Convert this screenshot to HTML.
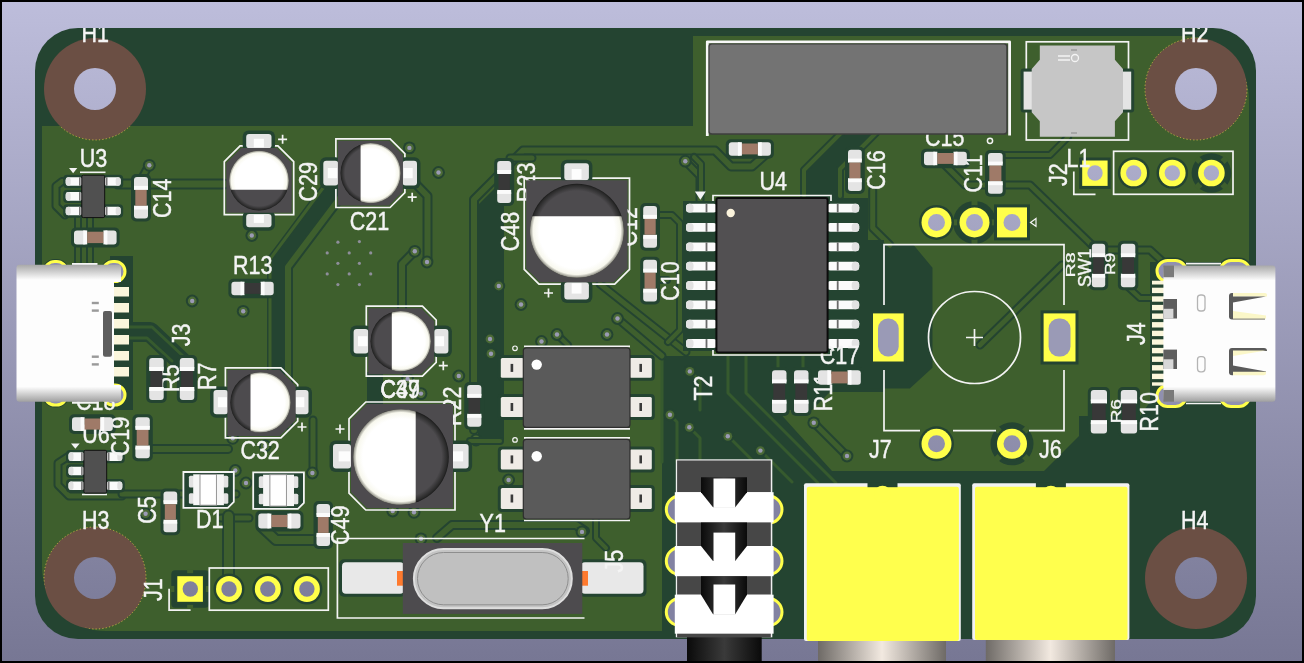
<!DOCTYPE html>
<html><head><meta charset="utf-8">
<style>
html,body{margin:0;padding:0;width:1304px;height:663px;overflow:hidden;background:#000;}
svg{display:block;font-family:"Liberation Sans",sans-serif;}

</style></head><body>
<svg width="1304" height="663" viewBox="0 0 1304 663">
<defs>
<linearGradient id="bg" x1="0" y1="0" x2="0" y2="1">
<stop offset="0" stop-color="#bdbddb"/>
<stop offset="1" stop-color="#777794"/>
</linearGradient>
<linearGradient id="bgu" gradientUnits="userSpaceOnUse" x1="0" y1="2" x2="0" y2="661">
<stop offset="0" stop-color="#bdbddb"/>
<stop offset="1" stop-color="#777794"/>
</linearGradient>
<linearGradient id="usbv" x1="0" y1="0" x2="0" y2="1">
<stop offset="0" stop-color="#a9a9a9"/>
<stop offset="0.11" stop-color="#fdfdfd"/>
<stop offset="0.89" stop-color="#fdfdfd"/>
<stop offset="1" stop-color="#a0a0a0"/>
</linearGradient>
<linearGradient id="silver" x1="0" y1="0" x2="1" y2="0">
<stop offset="0" stop-color="#6e6a66"/>
<stop offset="0.5" stop-color="#f2e9e0"/>
<stop offset="1" stop-color="#6e6a66"/>
</linearGradient>
<linearGradient id="blackcyl" x1="0" y1="0" x2="1" y2="0">
<stop offset="0" stop-color="#0a0a0a"/>
<stop offset="0.5" stop-color="#3a3a3a"/>
<stop offset="1" stop-color="#0a0a0a"/>
</linearGradient>
<radialGradient id="capw" cx="0.5" cy="0.5" r="0.5">
<stop offset="0.8" stop-color="#ffffff"/>
<stop offset="0.93" stop-color="#f8f8ee"/>
<stop offset="1" stop-color="#8a8a80"/>
</radialGradient>
<radialGradient id="capd" cx="0.5" cy="0.5" r="0.5">
<stop offset="0.85" stop-color="#4d4b4e"/>
<stop offset="0.97" stop-color="#2a2a2a"/>
<stop offset="1" stop-color="#1a1a1a"/>
</radialGradient>
<clipPath id="pourclip"><path d="M42 126 H693 V36 H1185 A64 64 0 0 1 1249 100 V262 H1150 V402 L1140 416 H1079 V436 L1044 471 H832 L777 410 H812 L830 392 H884 V356 H662 V631 H106 A64 64 0 0 1 42 567 Z"/></clipPath>
<clipPath id="boardclip"><rect x="35" y="28" width="1221" height="611" rx="43"/></clipPath>
<filter id="gs" x="0" y="0" width="1304" height="663" filterUnits="userSpaceOnUse"><feOffset dx="0" dy="0"/></filter>
</defs>
<rect x="0" y="0" width="1304" height="663" fill="#000"/>
<rect x="2" y="2" width="1300" height="659" fill="url(#bg)"/>

<rect x="35" y="28" width="1221" height="611" rx="43" fill="#244431"/>
<path d="M42 126 H693 V36 H1185 A64 64 0 0 1 1249 100 V262 H1150 V402 L1140 416 H1079 V436 L1044 471 H832 L777 410 H812 L830 392 H884 V356 H662 V631 H106 A64 64 0 0 1 42 567 Z" fill="#3e5f2d"/>
<polygon points="860,245 913.6,245 932.5,267.7 932.5,367.7 909.8,388.5 860,388.5" fill="#244431"/>
<polygon points="110,256 133,256 133,410 110,410" fill="#244431"/>
<polygon points="478,205 497,186 504,186 504,440 478,440" fill="#244431"/>
<polyline points="118,184 224,184" fill="none" stroke="#244431" stroke-width="11" stroke-linejoin="round" stroke-linecap="round"/>
<polyline points="118,184 224,184" fill="none" stroke="#3e5f2d" stroke-width="7" stroke-linejoin="round" stroke-linecap="round"/>
<polyline points="142,178 149,165" fill="none" stroke="#244431" stroke-width="9" stroke-linejoin="round" stroke-linecap="round"/>
<polyline points="142,178 149,165" fill="none" stroke="#3e5f2d" stroke-width="5" stroke-linejoin="round" stroke-linecap="round"/>
<polyline points="62,181.5 56,186 56,206 65,215" fill="none" stroke="#244431" stroke-width="9" stroke-linejoin="round" stroke-linecap="round"/>
<polyline points="62,181.5 56,186 56,206 65,215" fill="none" stroke="#3e5f2d" stroke-width="5" stroke-linejoin="round" stroke-linecap="round"/>
<polyline points="78,216 78,262" fill="none" stroke="#244431" stroke-width="8" stroke-linejoin="round" stroke-linecap="round"/>
<polyline points="78,216 78,262" fill="none" stroke="#3e5f2d" stroke-width="4" stroke-linejoin="round" stroke-linecap="round"/>
<polyline points="90,216 90,262" fill="none" stroke="#244431" stroke-width="8" stroke-linejoin="round" stroke-linecap="round"/>
<polyline points="90,216 90,262" fill="none" stroke="#3e5f2d" stroke-width="4" stroke-linejoin="round" stroke-linecap="round"/>
<polyline points="336,186 279,262 279,425" fill="none" stroke="#244431" stroke-width="22" stroke-linejoin="round"/>
<polyline points="343,194 288,267 288,425" fill="none" stroke="#244431" stroke-width="10" stroke-linejoin="round" stroke-linecap="round"/>
<polyline points="343,194 288,267 288,425" fill="none" stroke="#3e5f2d" stroke-width="6" stroke-linejoin="round" stroke-linecap="round"/>
<polyline points="329,180 270,259 270,425" fill="none" stroke="#244431" stroke-width="6.0" stroke-linejoin="round" stroke-linecap="round"/>
<polyline points="329,180 270,259 270,425" fill="none" stroke="#3e5f2d" stroke-width="3" stroke-linejoin="round" stroke-linecap="round"/>
<polyline points="412,180 427.5,196 427.5,262" fill="none" stroke="#244431" stroke-width="10" stroke-linejoin="round" stroke-linecap="round"/>
<polyline points="412,180 427.5,196 427.5,262" fill="none" stroke="#3e5f2d" stroke-width="6" stroke-linejoin="round" stroke-linecap="round"/>
<polyline points="414.8,251 402,264 402,335" fill="none" stroke="#244431" stroke-width="10" stroke-linejoin="round" stroke-linecap="round"/>
<polyline points="414.8,251 402,264 402,335" fill="none" stroke="#3e5f2d" stroke-width="6" stroke-linejoin="round" stroke-linecap="round"/>
<polyline points="765,155 752,166.5 731,166.5 715,150.5 523,150.5 474,199.5 474,430" fill="none" stroke="#244431" stroke-width="10" stroke-linejoin="round" stroke-linecap="round"/>
<polyline points="765,155 752,166.5 731,166.5 715,150.5 523,150.5 474,199.5 474,430" fill="none" stroke="#3e5f2d" stroke-width="6" stroke-linejoin="round" stroke-linecap="round"/>
<polyline points="510,158 532,158" fill="none" stroke="#244431" stroke-width="9" stroke-linejoin="round" stroke-linecap="round"/>
<polyline points="510,158 532,158" fill="none" stroke="#3e5f2d" stroke-width="5" stroke-linejoin="round" stroke-linecap="round"/>
<circle cx="337.9" cy="242.2" r="1.6" fill="#8e8e9a"/>
<circle cx="359.4" cy="241.6" r="1.6" fill="#8e8e9a"/>
<circle cx="327.2" cy="252.9" r="1.6" fill="#8e8e9a"/>
<circle cx="349.2" cy="252.9" r="1.6" fill="#8e8e9a"/>
<circle cx="370.7" cy="252.9" r="1.6" fill="#8e8e9a"/>
<circle cx="337.9" cy="263.3" r="1.6" fill="#8e8e9a"/>
<circle cx="359.4" cy="263.3" r="1.6" fill="#8e8e9a"/>
<circle cx="327.2" cy="273.9" r="1.6" fill="#8e8e9a"/>
<circle cx="349.2" cy="273.9" r="1.6" fill="#8e8e9a"/>
<circle cx="370.7" cy="273.9" r="1.6" fill="#8e8e9a"/>
<circle cx="337.9" cy="284.6" r="1.6" fill="#8e8e9a"/>
<circle cx="359.4" cy="284.6" r="1.6" fill="#8e8e9a"/>
<circle cx="251.8" cy="235.5" r="6.4" fill="#244431"/>
<circle cx="251.8" cy="235.5" r="4.4" fill="#4b6a36"/>
<circle cx="251.8" cy="235.5" r="2.2" fill="#9a9ab4"/>
<circle cx="243.2" cy="311.3" r="6.4" fill="#244431"/>
<circle cx="243.2" cy="311.3" r="4.4" fill="#4b6a36"/>
<circle cx="243.2" cy="311.3" r="2.2" fill="#9a9ab4"/>
<circle cx="409.4" cy="147.9" r="6.4" fill="#244431"/>
<circle cx="409.4" cy="147.9" r="4.4" fill="#4b6a36"/>
<circle cx="409.4" cy="147.9" r="2.2" fill="#9a9ab4"/>
<circle cx="438.5" cy="172.5" r="6.4" fill="#244431"/>
<circle cx="438.5" cy="172.5" r="4.4" fill="#4b6a36"/>
<circle cx="438.5" cy="172.5" r="2.2" fill="#9a9ab4"/>
<circle cx="414.8" cy="251.3" r="6.4" fill="#244431"/>
<circle cx="414.8" cy="251.3" r="4.4" fill="#4b6a36"/>
<circle cx="414.8" cy="251.3" r="2.2" fill="#9a9ab4"/>
<circle cx="427" cy="262" r="6.4" fill="#244431"/>
<circle cx="427" cy="262" r="4.4" fill="#4b6a36"/>
<circle cx="427" cy="262" r="2.2" fill="#9a9ab4"/>
<circle cx="149.3" cy="165.3" r="6.4" fill="#244431"/>
<circle cx="149.3" cy="165.3" r="4.4" fill="#4b6a36"/>
<circle cx="149.3" cy="165.3" r="2.2" fill="#9a9ab4"/>
<circle cx="192.2" cy="301" r="6.4" fill="#244431"/>
<circle cx="192.2" cy="301" r="4.4" fill="#4b6a36"/>
<circle cx="192.2" cy="301" r="2.2" fill="#9a9ab4"/>
<polyline points="685.3,161.2 700,176 700,200" fill="none" stroke="#244431" stroke-width="9" stroke-linejoin="round" stroke-linecap="round"/>
<polyline points="685.3,161.2 700,176 700,200" fill="none" stroke="#3e5f2d" stroke-width="5" stroke-linejoin="round" stroke-linecap="round"/>
<polyline points="694,157 701,164 701,192" fill="none" stroke="#244431" stroke-width="8" stroke-linejoin="round" stroke-linecap="round"/>
<polyline points="694,157 701,164 701,192" fill="none" stroke="#3e5f2d" stroke-width="4" stroke-linejoin="round" stroke-linecap="round"/>
<circle cx="685.3" cy="161.2" r="6.4" fill="#244431"/>
<circle cx="685.3" cy="161.2" r="4.4" fill="#4b6a36"/>
<circle cx="685.3" cy="161.2" r="2.2" fill="#9a9ab4"/>
<polyline points="945,165 965,185 1030,185 1092,245" fill="none" stroke="#244431" stroke-width="9" stroke-linejoin="round" stroke-linecap="round"/>
<polyline points="945,165 965,185 1030,185 1092,245" fill="none" stroke="#3e5f2d" stroke-width="5" stroke-linejoin="round" stroke-linecap="round"/>
<polyline points="1003,155 1050,155 1068,137" fill="none" stroke="#244431" stroke-width="8" stroke-linejoin="round" stroke-linecap="round"/>
<polyline points="1003,155 1050,155 1068,137" fill="none" stroke="#3e5f2d" stroke-width="4" stroke-linejoin="round" stroke-linecap="round"/>
<polyline points="872.7,190 872.7,228 890,245" fill="none" stroke="#244431" stroke-width="9" stroke-linejoin="round" stroke-linecap="round"/>
<polyline points="872.7,190 872.7,228 890,245" fill="none" stroke="#3e5f2d" stroke-width="5" stroke-linejoin="round" stroke-linecap="round"/>
<polygon points="843,134 874,134 838,170 838,200 806,200 806,171" fill="#244431"/>
<polygon points="827,198 868,198 868,356 827,356" fill="#244431"/>
<polyline points="876,133 840,169 840,196" fill="none" stroke="#244431" stroke-width="8" stroke-linejoin="round" stroke-linecap="round"/>
<polyline points="876,133 840,169 840,196" fill="none" stroke="#3e5f2d" stroke-width="4" stroke-linejoin="round" stroke-linecap="round"/>
<polyline points="841,133 804,170 804,196" fill="none" stroke="#244431" stroke-width="8" stroke-linejoin="round" stroke-linecap="round"/>
<polyline points="841,133 804,170 804,196" fill="none" stroke="#3e5f2d" stroke-width="4" stroke-linejoin="round" stroke-linecap="round"/>
<polygon points="858,240 884,240 884,355 858,355" fill="#244431"/>
<polyline points="980,345 1062,265" fill="none" stroke="#244431" stroke-width="9" stroke-linejoin="round" stroke-linecap="round"/>
<polyline points="980,345 1062,265" fill="none" stroke="#3e5f2d" stroke-width="5" stroke-linejoin="round" stroke-linecap="round"/>
<polyline points="728,354 728,393 818,483" fill="none" stroke="#365a2e" stroke-width="3" stroke-linejoin="round" stroke-linecap="round"/>
<polyline points="746,354 746,393 836,483" fill="none" stroke="#365a2e" stroke-width="3" stroke-linejoin="round" stroke-linecap="round"/>
<polyline points="778,354 778,370" fill="none" stroke="#365a2e" stroke-width="3" stroke-linejoin="round" stroke-linecap="round"/>
<polyline points="803,354 803,370" fill="none" stroke="#365a2e" stroke-width="3" stroke-linejoin="round" stroke-linecap="round"/>
<polyline points="670,415 677,422 677,462" fill="none" stroke="#365a2e" stroke-width="3" stroke-linejoin="round" stroke-linecap="round"/>
<polyline points="689,427 700,438 700,462" fill="none" stroke="#365a2e" stroke-width="3" stroke-linejoin="round" stroke-linecap="round"/>
<polyline points="728,436 768,476" fill="none" stroke="#365a2e" stroke-width="3" stroke-linejoin="round" stroke-linecap="round"/>
<polyline points="760,450 792,482" fill="none" stroke="#365a2e" stroke-width="3" stroke-linejoin="round" stroke-linecap="round"/>
<polyline points="690,371 700,381 700,410" fill="none" stroke="#365a2e" stroke-width="3" stroke-linejoin="round" stroke-linecap="round"/>
<polyline points="662,356 662,462" fill="none" stroke="#365a2e" stroke-width="3" stroke-linejoin="round" stroke-linecap="round"/>
<polyline points="814,423 847,456" fill="none" stroke="#244431" stroke-width="9" stroke-linejoin="round" stroke-linecap="round"/>
<polyline points="814,423 847,456" fill="none" stroke="#3e5f2d" stroke-width="5" stroke-linejoin="round" stroke-linecap="round"/>
<circle cx="689.8" cy="371.4" r="6.4" fill="#244431"/>
<circle cx="689.8" cy="371.4" r="4.4" fill="#4b6a36"/>
<circle cx="689.8" cy="371.4" r="2.2" fill="#9a9ab4"/>
<circle cx="669.9" cy="414.8" r="6.4" fill="#244431"/>
<circle cx="669.9" cy="414.8" r="4.4" fill="#4b6a36"/>
<circle cx="669.9" cy="414.8" r="2.2" fill="#9a9ab4"/>
<circle cx="689.3" cy="427.3" r="6.4" fill="#244431"/>
<circle cx="689.3" cy="427.3" r="4.4" fill="#4b6a36"/>
<circle cx="689.3" cy="427.3" r="2.2" fill="#9a9ab4"/>
<circle cx="727.8" cy="436.3" r="6.4" fill="#244431"/>
<circle cx="727.8" cy="436.3" r="4.4" fill="#4b6a36"/>
<circle cx="727.8" cy="436.3" r="2.2" fill="#9a9ab4"/>
<circle cx="760.4" cy="450.6" r="6.4" fill="#244431"/>
<circle cx="760.4" cy="450.6" r="4.4" fill="#4b6a36"/>
<circle cx="760.4" cy="450.6" r="2.2" fill="#9a9ab4"/>
<circle cx="813.8" cy="422.8" r="6.4" fill="#244431"/>
<circle cx="813.8" cy="422.8" r="4.4" fill="#4b6a36"/>
<circle cx="813.8" cy="422.8" r="2.2" fill="#9a9ab4"/>
<circle cx="847" cy="456" r="6.4" fill="#244431"/>
<circle cx="847" cy="456" r="4.4" fill="#4b6a36"/>
<circle cx="847" cy="456" r="2.2" fill="#9a9ab4"/>
<polyline points="122,332 150,332 186,366" fill="none" stroke="#244431" stroke-width="20" stroke-linejoin="round"/>
<polyline points="125,327 152,327 183,356" fill="none" stroke="#365a2e" stroke-width="3" stroke-linejoin="round" stroke-linecap="round"/>
<polyline points="125,338 147,338 172,361" fill="none" stroke="#365a2e" stroke-width="3" stroke-linejoin="round" stroke-linecap="round"/>
<polyline points="68,456.6 58,463 58,485 69,496 122,496" fill="none" stroke="#244431" stroke-width="9" stroke-linejoin="round" stroke-linecap="round"/>
<polyline points="68,456.6 58,463 58,485 69,496 122,496" fill="none" stroke="#3e5f2d" stroke-width="5" stroke-linejoin="round" stroke-linecap="round"/>
<polyline points="122,494 236,494" fill="none" stroke="#244431" stroke-width="9" stroke-linejoin="round" stroke-linecap="round"/>
<polyline points="122,494 236,494" fill="none" stroke="#3e5f2d" stroke-width="5" stroke-linejoin="round" stroke-linecap="round"/>
<polyline points="150,449 228,449" fill="none" stroke="#244431" stroke-width="10" stroke-linejoin="round" stroke-linecap="round"/>
<polyline points="150,449 228,449" fill="none" stroke="#3e5f2d" stroke-width="6" stroke-linejoin="round" stroke-linecap="round"/>
<polyline points="221,518 249,518" fill="none" stroke="#244431" stroke-width="9" stroke-linejoin="round" stroke-linecap="round"/>
<polyline points="221,518 249,518" fill="none" stroke="#3e5f2d" stroke-width="5" stroke-linejoin="round" stroke-linecap="round"/>
<polyline points="228.5,516 228.5,578" fill="none" stroke="#244431" stroke-width="13" stroke-linejoin="round" stroke-linecap="round"/>
<polyline points="228.5,516 228.5,578" fill="none" stroke="#3e5f2d" stroke-width="9" stroke-linejoin="round" stroke-linecap="round"/>
<polyline points="262,527 276,540 318,540" fill="none" stroke="#244431" stroke-width="12" stroke-linejoin="round" stroke-linecap="round"/>
<polyline points="262,527 276,540 318,540" fill="none" stroke="#3e5f2d" stroke-width="8" stroke-linejoin="round" stroke-linecap="round"/>
<polyline points="313,420 313,472" fill="none" stroke="#244431" stroke-width="9" stroke-linejoin="round" stroke-linecap="round"/>
<polyline points="313,420 313,472" fill="none" stroke="#3e5f2d" stroke-width="5" stroke-linejoin="round" stroke-linecap="round"/>
<circle cx="235.3" cy="470.5" r="6.4" fill="#244431"/>
<circle cx="235.3" cy="470.5" r="4.4" fill="#4b6a36"/>
<circle cx="235.3" cy="470.5" r="2.2" fill="#9a9ab4"/>
<circle cx="246" cy="483" r="6.4" fill="#244431"/>
<circle cx="246" cy="483" r="4.4" fill="#4b6a36"/>
<circle cx="246" cy="483" r="2.2" fill="#9a9ab4"/>
<circle cx="312.4" cy="473" r="6.4" fill="#244431"/>
<circle cx="312.4" cy="473" r="4.4" fill="#4b6a36"/>
<circle cx="312.4" cy="473" r="2.2" fill="#9a9ab4"/>
<circle cx="145.6" cy="513.7" r="6.4" fill="#244431"/>
<circle cx="145.6" cy="513.7" r="4.4" fill="#4b6a36"/>
<circle cx="145.6" cy="513.7" r="2.2" fill="#9a9ab4"/>
<circle cx="232.7" cy="438.3" r="6.4" fill="#244431"/>
<circle cx="232.7" cy="438.3" r="4.4" fill="#4b6a36"/>
<circle cx="232.7" cy="438.3" r="2.2" fill="#9a9ab4"/>
<circle cx="265.2" cy="446" r="6.4" fill="#244431"/>
<circle cx="265.2" cy="446" r="4.4" fill="#4b6a36"/>
<circle cx="265.2" cy="446" r="2.2" fill="#9a9ab4"/>
<polyline points="1100,250 1150,250 1163,262" fill="none" stroke="#244431" stroke-width="9" stroke-linejoin="round" stroke-linecap="round"/>
<polyline points="1100,250 1150,250 1163,262" fill="none" stroke="#3e5f2d" stroke-width="5" stroke-linejoin="round" stroke-linecap="round"/>
<polyline points="1128,287 1140,298 1152,298" fill="none" stroke="#244431" stroke-width="8" stroke-linejoin="round" stroke-linecap="round"/>
<polyline points="1128,287 1140,298 1152,298" fill="none" stroke="#3e5f2d" stroke-width="4" stroke-linejoin="round" stroke-linecap="round"/>
<circle cx="407.6" cy="379" r="6.4" fill="#244431"/>
<circle cx="407.6" cy="379" r="4.4" fill="#4b6a36"/>
<circle cx="407.6" cy="379" r="2.2" fill="#9a9ab4"/>
<circle cx="421" cy="393.6" r="6.4" fill="#244431"/>
<circle cx="421" cy="393.6" r="4.4" fill="#4b6a36"/>
<circle cx="421" cy="393.6" r="2.2" fill="#9a9ab4"/>
<polyline points="375,372 375,404" fill="none" stroke="#244431" stroke-width="16"/>
<circle cx="498.8" cy="286" r="6.4" fill="#244431"/>
<circle cx="498.8" cy="286" r="4.4" fill="#4b6a36"/>
<circle cx="498.8" cy="286" r="2.2" fill="#9a9ab4"/>
<circle cx="521" cy="304.5" r="6.4" fill="#244431"/>
<circle cx="521" cy="304.5" r="4.4" fill="#4b6a36"/>
<circle cx="521" cy="304.5" r="2.2" fill="#9a9ab4"/>
<circle cx="490" cy="339" r="6.4" fill="#244431"/>
<circle cx="490" cy="339" r="4.4" fill="#4b6a36"/>
<circle cx="490" cy="339" r="2.2" fill="#9a9ab4"/>
<circle cx="491" cy="353.7" r="6.4" fill="#244431"/>
<circle cx="491" cy="353.7" r="4.4" fill="#4b6a36"/>
<circle cx="491" cy="353.7" r="2.2" fill="#9a9ab4"/>
<circle cx="458.8" cy="376" r="6.4" fill="#244431"/>
<circle cx="458.8" cy="376" r="4.4" fill="#4b6a36"/>
<circle cx="458.8" cy="376" r="2.2" fill="#9a9ab4"/>
<circle cx="476" cy="440" r="6.4" fill="#244431"/>
<circle cx="476" cy="440" r="4.4" fill="#4b6a36"/>
<circle cx="476" cy="440" r="2.2" fill="#9a9ab4"/>
<circle cx="508.6" cy="480" r="6.4" fill="#244431"/>
<circle cx="508.6" cy="480" r="4.4" fill="#4b6a36"/>
<circle cx="508.6" cy="480" r="2.2" fill="#9a9ab4"/>
<polyline points="470,441 500,441" fill="none" stroke="#244431" stroke-width="8" stroke-linejoin="round" stroke-linecap="round"/>
<polyline points="470,441 500,441" fill="none" stroke="#3e5f2d" stroke-width="4" stroke-linejoin="round" stroke-linecap="round"/>
<polyline points="437,538 452,525 576,525 585,531" fill="none" stroke="#244431" stroke-width="10" stroke-linejoin="round" stroke-linecap="round"/>
<polyline points="437,538 452,525 576,525 585,531" fill="none" stroke="#3e5f2d" stroke-width="6" stroke-linejoin="round" stroke-linecap="round"/>
<polyline points="596,520 596,538 606,548" fill="none" stroke="#244431" stroke-width="8" stroke-linejoin="round" stroke-linecap="round"/>
<polyline points="596,520 596,538 606,548" fill="none" stroke="#3e5f2d" stroke-width="4" stroke-linejoin="round" stroke-linecap="round"/>
<circle cx="414" cy="512.3" r="6.4" fill="#244431"/>
<circle cx="414" cy="512.3" r="4.4" fill="#4b6a36"/>
<circle cx="414" cy="512.3" r="2.2" fill="#9a9ab4"/>
<circle cx="392.7" cy="511" r="6.4" fill="#244431"/>
<circle cx="392.7" cy="511" r="4.4" fill="#4b6a36"/>
<circle cx="392.7" cy="511" r="2.2" fill="#9a9ab4"/>
<circle cx="421" cy="538.8" r="6.4" fill="#244431"/>
<circle cx="421" cy="538.8" r="4.4" fill="#4b6a36"/>
<circle cx="421" cy="538.8" r="2.2" fill="#9a9ab4"/>
<circle cx="582" cy="531.9" r="6.4" fill="#244431"/>
<circle cx="582" cy="531.9" r="4.4" fill="#4b6a36"/>
<circle cx="582" cy="531.9" r="2.2" fill="#9a9ab4"/>
<polyline points="600,284 686,352" fill="none" stroke="#244431" stroke-width="9" stroke-linejoin="round" stroke-linecap="round"/>
<polyline points="600,284 686,352" fill="none" stroke="#3e5f2d" stroke-width="5" stroke-linejoin="round" stroke-linecap="round"/>
<polyline points="617.5,318.5 662,356" fill="none" stroke="#244431" stroke-width="9" stroke-linejoin="round" stroke-linecap="round"/>
<polyline points="617.5,318.5 662,356" fill="none" stroke="#3e5f2d" stroke-width="5" stroke-linejoin="round" stroke-linecap="round"/>
<polyline points="557,334.5 568,345" fill="none" stroke="#244431" stroke-width="8" stroke-linejoin="round" stroke-linecap="round"/>
<polyline points="557,334.5 568,345" fill="none" stroke="#3e5f2d" stroke-width="4" stroke-linejoin="round" stroke-linecap="round"/>
<circle cx="617.5" cy="318.5" r="6.4" fill="#244431"/>
<circle cx="617.5" cy="318.5" r="4.4" fill="#4b6a36"/>
<circle cx="617.5" cy="318.5" r="2.2" fill="#9a9ab4"/>
<circle cx="607" cy="334.5" r="6.4" fill="#244431"/>
<circle cx="607" cy="334.5" r="4.4" fill="#4b6a36"/>
<circle cx="607" cy="334.5" r="2.2" fill="#9a9ab4"/>
<circle cx="557" cy="334.5" r="6.4" fill="#244431"/>
<circle cx="557" cy="334.5" r="4.4" fill="#4b6a36"/>
<circle cx="557" cy="334.5" r="2.2" fill="#9a9ab4"/>
<circle cx="541.5" cy="341.5" r="6.4" fill="#244431"/>
<circle cx="541.5" cy="341.5" r="4.4" fill="#4b6a36"/>
<circle cx="541.5" cy="341.5" r="2.2" fill="#9a9ab4"/>
<polyline points="657,215 672,215 680,223 680,330 668,342" fill="none" stroke="#244431" stroke-width="8" stroke-linejoin="round" stroke-linecap="round"/>
<polyline points="657,215 672,215 680,223 680,330 668,342" fill="none" stroke="#3e5f2d" stroke-width="4" stroke-linejoin="round" stroke-linecap="round"/>
<polyline points="657,280 667,280" fill="none" stroke="#244431" stroke-width="8" stroke-linejoin="round" stroke-linecap="round"/>
<polyline points="657,280 667,280" fill="none" stroke="#3e5f2d" stroke-width="4" stroke-linejoin="round" stroke-linecap="round"/>
<circle cx="95" cy="89" r="51" fill="#6b4f44"/>
<circle cx="95" cy="89" r="51" fill="none" stroke="#d2bb4a" stroke-width="0.9" stroke-dasharray="1.2 2.2" clip-path="url(#pourclip)"/>
<circle cx="95" cy="89" r="21" fill="url(#bgu)"/>
<circle cx="1196" cy="89" r="51" fill="#6b4f44"/>
<circle cx="1196" cy="89" r="51" fill="none" stroke="#d2bb4a" stroke-width="0.9" stroke-dasharray="1.2 2.2" clip-path="url(#pourclip)"/>
<circle cx="1196" cy="89" r="21" fill="url(#bgu)"/>
<circle cx="95" cy="578" r="51" fill="#6b4f44"/>
<circle cx="95" cy="578" r="51" fill="none" stroke="#d2bb4a" stroke-width="0.9" stroke-dasharray="1.2 2.2" clip-path="url(#pourclip)"/>
<circle cx="95" cy="578" r="21" fill="url(#bgu)"/>
<circle cx="1196" cy="578" r="51" fill="#6b4f44"/>
<circle cx="1196" cy="578" r="51" fill="none" stroke="#d2bb4a" stroke-width="0.9" stroke-dasharray="1.2 2.2" clip-path="url(#pourclip)"/>
<circle cx="1196" cy="578" r="21" fill="url(#bgu)"/>
<rect x="131.0" y="174.0" width="20.0" height="47.5" rx="5" fill="#244431"/>
<rect x="71.0" y="227.4" width="48.6" height="20.0" rx="5" fill="#244431"/>
<rect x="63.2" y="174.8" width="21.0" height="13.4" rx="4" fill="#244431"/>
<rect x="63.2" y="189.7" width="21.0" height="13.4" rx="4" fill="#244431"/>
<rect x="63.2" y="204.3" width="21.0" height="13.4" rx="4" fill="#244431"/>
<rect x="102.2" y="174.8" width="21.0" height="13.4" rx="4" fill="#244431"/>
<rect x="102.2" y="204.3" width="21.0" height="13.4" rx="4" fill="#244431"/>
<rect x="65.7" y="177.2" width="16.8" height="8.6" rx="3" fill="#fafafa"/>
<rect x="65.7" y="177.2" width="5" height="8.6" rx="3" fill="#e0e0e0"/>
<rect x="79.0" y="177.2" width="1.6" height="8.6" fill="#777"/>
<rect x="65.7" y="192.1" width="16.8" height="8.6" rx="3" fill="#fafafa"/>
<rect x="65.7" y="192.1" width="5" height="8.6" rx="3" fill="#e0e0e0"/>
<rect x="79.0" y="192.1" width="1.6" height="8.6" fill="#777"/>
<rect x="65.7" y="206.7" width="16.8" height="8.6" rx="3" fill="#fafafa"/>
<rect x="65.7" y="206.7" width="5" height="8.6" rx="3" fill="#e0e0e0"/>
<rect x="79.0" y="206.7" width="1.6" height="8.6" fill="#777"/>
<rect x="104" y="177.2" width="16.7" height="8.6" rx="3" fill="#fafafa"/>
<rect x="115.7" y="177.2" width="5" height="8.6" rx="3" fill="#e0e0e0"/>
<rect x="105.9" y="177.2" width="1.6" height="8.6" fill="#777"/>
<rect x="104" y="206.7" width="16.7" height="8.6" rx="3" fill="#fafafa"/>
<rect x="115.7" y="206.7" width="5" height="8.6" rx="3" fill="#e0e0e0"/>
<rect x="105.9" y="206.7" width="1.6" height="8.6" fill="#777"/>
<path d="M69 168 h8.3 l-4.15 5.2 z" fill="#f4f4f4"/>
<path d="M80 172.3 h25.5" stroke="#f4f4f4" stroke-width="1.6"/>
<polygon points="224.3,161.7 240.1,145.9 277.9,145.9 293.7,161.7 293.7,214.7 224.3,214.7" fill="none" stroke="#f4f4f4" stroke-width="1.7"/>
<rect x="242.7" y="130.6" width="32.3" height="21.2" rx="6" fill="#244431"/>
<rect x="242.7" y="210.4" width="32.3" height="20.3" rx="6" fill="#244431"/>
<rect x="246.2" y="134.1" width="25.3" height="14.2" rx="3" fill="#e4e4e4"/>
<rect x="253.8" y="138.8" width="10.1" height="8.5" fill="#fdfdfd"/>
<rect x="246.2" y="213.9" width="25.3" height="13.3" rx="3" fill="#e4e4e4"/>
<rect x="253.8" y="214.9" width="10.1" height="8.0" fill="#fdfdfd"/>
<polygon points="335.9,138.8 390.1,138.8 404.9,153.6 404.9,192.7 390.1,207.5 335.9,207.5" fill="none" stroke="#f4f4f4" stroke-width="1.7"/>
<rect x="319.8" y="157.2" width="21.9" height="31.9" rx="6" fill="#244431"/>
<rect x="399.1" y="157.2" width="21.4" height="31.9" rx="6" fill="#244431"/>
<rect x="323.3" y="160.7" width="14.9" height="24.9" rx="3" fill="#e4e4e4"/>
<rect x="327.8" y="168.0" width="9.4" height="10.2" fill="#fdfdfd"/>
<rect x="402.6" y="160.7" width="14.4" height="24.9" rx="3" fill="#e4e4e4"/>
<rect x="403.6" y="168.0" width="9.1" height="10.2" fill="#fdfdfd"/>
<rect x="228.4" y="278.7" width="48.3" height="19.5" rx="5" fill="#244431"/>
<rect x="42.2" y="259.0" width="27" height="25" rx="12.5" fill="#244431"/>
<rect x="44.7" y="261.5" width="22" height="20" rx="10" fill="#8f8fae" stroke="#ffff4a" stroke-width="3"/>
<rect x="100.5" y="259.0" width="27" height="25" rx="12.5" fill="#244431"/>
<rect x="103" y="261.5" width="22" height="20" rx="10" fill="#8f8fae" stroke="#ffff4a" stroke-width="3"/>
<rect x="42.2" y="382.5" width="27" height="25" rx="12.5" fill="#244431"/>
<rect x="44.7" y="385" width="22" height="20" rx="10" fill="#8f8fae" stroke="#ffff4a" stroke-width="3"/>
<rect x="100.5" y="382.5" width="27" height="25" rx="12.5" fill="#244431"/>
<rect x="103" y="385" width="22" height="20" rx="10" fill="#8f8fae" stroke="#ffff4a" stroke-width="3"/>
<rect x="112" y="287.0" width="17" height="9.5" fill="#fbf6dc"/>
<rect x="112" y="303.0" width="17" height="9.5" fill="#fbf6dc"/>
<rect x="112" y="319.0" width="17" height="9.5" fill="#fbf6dc"/>
<rect x="112" y="335.0" width="17" height="9.5" fill="#fbf6dc"/>
<rect x="112" y="351.0" width="17" height="9.5" fill="#fbf6dc"/>
<rect x="112" y="367.0" width="17" height="9.5" fill="#fbf6dc"/>
<rect x="146.2" y="355.0" width="20.5" height="48.0" rx="5" fill="#244431"/>
<rect x="176.8" y="355.0" width="20.5" height="48.0" rx="5" fill="#244431"/>
<rect x="69.0" y="414.2" width="46.8" height="19.7" rx="5" fill="#244431"/>
<rect x="132.4" y="414.2" width="20.4" height="47.0" rx="5" fill="#244431"/>
<rect x="66.0" y="449.9" width="20.4" height="13.4" rx="4" fill="#244431"/>
<rect x="66.0" y="464.3" width="20.4" height="13.4" rx="4" fill="#244431"/>
<rect x="66.0" y="479.0" width="20.4" height="13.4" rx="4" fill="#244431"/>
<rect x="104.2" y="449.9" width="20.6" height="13.4" rx="4" fill="#244431"/>
<rect x="104.2" y="479.0" width="20.6" height="13.4" rx="4" fill="#244431"/>
<rect x="68.5" y="452.3" width="16.1" height="8.6" rx="3" fill="#fafafa"/>
<rect x="68.5" y="452.3" width="5" height="8.6" rx="3" fill="#e0e0e0"/>
<rect x="81.1" y="452.3" width="1.6" height="8.6" fill="#777"/>
<rect x="68.5" y="466.7" width="16.1" height="8.6" rx="3" fill="#fafafa"/>
<rect x="68.5" y="466.7" width="5" height="8.6" rx="3" fill="#e0e0e0"/>
<rect x="81.1" y="466.7" width="1.6" height="8.6" fill="#777"/>
<rect x="68.5" y="481.4" width="16.1" height="8.6" rx="3" fill="#fafafa"/>
<rect x="68.5" y="481.4" width="5" height="8.6" rx="3" fill="#e0e0e0"/>
<rect x="81.1" y="481.4" width="1.6" height="8.6" fill="#777"/>
<rect x="106" y="452.3" width="16.3" height="8.6" rx="3" fill="#fafafa"/>
<rect x="117.3" y="452.3" width="5" height="8.6" rx="3" fill="#e0e0e0"/>
<rect x="107.9" y="452.3" width="1.6" height="8.6" fill="#777"/>
<rect x="106" y="481.4" width="16.3" height="8.6" rx="3" fill="#fafafa"/>
<rect x="117.3" y="481.4" width="5" height="8.6" rx="3" fill="#e0e0e0"/>
<rect x="107.9" y="481.4" width="1.6" height="8.6" fill="#777"/>
<path d="M71 443.5 h8.7 l-4.35 5.3 z" fill="#f4f4f4"/>
<path d="M82 494.5 h25" stroke="#f4f4f4" stroke-width="1.6"/>
<rect x="160.5" y="488.6" width="19.7" height="46.7" rx="5" fill="#244431"/>
<polygon points="225.4,367.9 280.9,367.9 297.7,384.7 297.7,421.1 280.9,437.9 225.4,437.9" fill="none" stroke="#f4f4f4" stroke-width="1.7"/>
<rect x="210.0" y="386.5" width="21.5" height="31.3" rx="6" fill="#244431"/>
<rect x="291.0" y="386.5" width="21.0" height="31.3" rx="6" fill="#244431"/>
<rect x="213.5" y="390" width="14.5" height="24.3" rx="3" fill="#e4e4e4"/>
<rect x="217.9" y="397.2" width="9.1" height="10.0" fill="#fdfdfd"/>
<rect x="294.5" y="390" width="14" height="24.3" rx="3" fill="#e4e4e4"/>
<rect x="295.5" y="397.2" width="8.8" height="10.0" fill="#fdfdfd"/>
<rect x="255.3" y="510.6" width="48.2" height="20.8" rx="5" fill="#244431"/>
<rect x="313.5" y="501.0" width="19.5" height="47.9" rx="5" fill="#244431"/>
<polygon points="366.3,306.2 422.4,306.2 436.2,320.0 436.2,362.4 422.4,376.2 366.3,376.2" fill="none" stroke="#f4f4f4" stroke-width="1.7"/>
<rect x="350.1" y="325.5" width="21.7" height="31.4" rx="6" fill="#244431"/>
<rect x="430.7" y="325.5" width="21.2" height="31.4" rx="6" fill="#244431"/>
<rect x="353.6" y="329" width="14.7" height="24.4" rx="3" fill="#e4e4e4"/>
<rect x="358.0" y="336.2" width="9.3" height="10.0" fill="#fdfdfd"/>
<rect x="434.2" y="329" width="14.2" height="24.4" rx="3" fill="#e4e4e4"/>
<rect x="435.2" y="336.2" width="8.9" height="10.0" fill="#fdfdfd"/>
<polygon points="365.8,402.0 455.0,402.0 455.0,510.0 365.8,510.0 349.0,493.2 349.0,418.8" fill="none" stroke="#f4f4f4" stroke-width="1.7"/>
<rect x="329.5" y="440.5" width="25.0" height="31.6" rx="6" fill="#244431"/>
<rect x="447.5" y="440.5" width="24.6" height="31.6" rx="6" fill="#244431"/>
<rect x="333" y="444" width="18" height="24.6" rx="3" fill="#e4e4e4"/>
<rect x="338.7" y="451.3" width="11.3" height="10.1" fill="#fdfdfd"/>
<rect x="451" y="444" width="17.6" height="24.6" rx="3" fill="#e4e4e4"/>
<rect x="452.0" y="451.3" width="11.1" height="10.1" fill="#fdfdfd"/>
<rect x="464.2" y="382.0" width="20.2" height="47.7" rx="5" fill="#244431"/>
<polygon points="524.2,178.2 629.5,178.2 629.5,269.4 614.7,284.2 539.0,284.2 524.2,269.4" fill="none" stroke="#f4f4f4" stroke-width="1.7"/>
<rect x="560.8" y="159.8" width="31.6" height="23.9" rx="6" fill="#244431"/>
<rect x="560.8" y="278.7" width="31.6" height="24.4" rx="6" fill="#244431"/>
<rect x="564.3" y="163.3" width="24.6" height="16.9" rx="3" fill="#e4e4e4"/>
<rect x="571.7" y="169.1" width="9.8" height="10.1" fill="#fdfdfd"/>
<rect x="564.3" y="282.2" width="24.6" height="17.4" rx="3" fill="#e4e4e4"/>
<rect x="571.7" y="283.2" width="9.8" height="10.4" fill="#fdfdfd"/>
<rect x="494.2" y="157.9" width="20.0" height="48.1" rx="5" fill="#244431"/>
<rect x="640.2" y="203.0" width="19.8" height="47.7" rx="5" fill="#244431"/>
<rect x="640.2" y="256.8" width="19.8" height="47.7" rx="5" fill="#244431"/>
<rect x="683" y="201" width="34" height="150" fill="#244431"/>
<rect x="827" y="201" width="35" height="150" fill="#244431"/>
<rect x="686" y="203.7" width="31" height="8.8" rx="3.5" fill="#fbfbfb"/>
<rect x="686" y="203.7" width="7.5" height="8.8" rx="3.5" fill="#e2e2e2"/>
<rect x="705.6" y="203.7" width="1.8" height="8.8" fill="#6a6a6a"/>
<rect x="827" y="203.7" width="32.2" height="8.8" rx="3.5" fill="#fbfbfb"/>
<rect x="851.7" y="203.7" width="7.5" height="8.8" rx="3.5" fill="#e2e2e2"/>
<rect x="836.8" y="203.7" width="1.8" height="8.8" fill="#6a6a6a"/>
<rect x="686" y="223.0" width="31" height="8.8" rx="3.5" fill="#fbfbfb"/>
<rect x="686" y="223.0" width="7.5" height="8.8" rx="3.5" fill="#e2e2e2"/>
<rect x="705.6" y="223.0" width="1.8" height="8.8" fill="#6a6a6a"/>
<rect x="827" y="223.0" width="32.2" height="8.8" rx="3.5" fill="#fbfbfb"/>
<rect x="851.7" y="223.0" width="7.5" height="8.8" rx="3.5" fill="#e2e2e2"/>
<rect x="836.8" y="223.0" width="1.8" height="8.8" fill="#6a6a6a"/>
<rect x="686" y="242.4" width="31" height="8.8" rx="3.5" fill="#fbfbfb"/>
<rect x="686" y="242.4" width="7.5" height="8.8" rx="3.5" fill="#e2e2e2"/>
<rect x="705.6" y="242.4" width="1.8" height="8.8" fill="#6a6a6a"/>
<rect x="827" y="242.4" width="32.2" height="8.8" rx="3.5" fill="#fbfbfb"/>
<rect x="851.7" y="242.4" width="7.5" height="8.8" rx="3.5" fill="#e2e2e2"/>
<rect x="836.8" y="242.4" width="1.8" height="8.8" fill="#6a6a6a"/>
<rect x="686" y="261.7" width="31" height="8.8" rx="3.5" fill="#fbfbfb"/>
<rect x="686" y="261.7" width="7.5" height="8.8" rx="3.5" fill="#e2e2e2"/>
<rect x="705.6" y="261.7" width="1.8" height="8.8" fill="#6a6a6a"/>
<rect x="827" y="261.7" width="32.2" height="8.8" rx="3.5" fill="#fbfbfb"/>
<rect x="851.7" y="261.7" width="7.5" height="8.8" rx="3.5" fill="#e2e2e2"/>
<rect x="836.8" y="261.7" width="1.8" height="8.8" fill="#6a6a6a"/>
<rect x="686" y="281.1" width="31" height="8.8" rx="3.5" fill="#fbfbfb"/>
<rect x="686" y="281.1" width="7.5" height="8.8" rx="3.5" fill="#e2e2e2"/>
<rect x="705.6" y="281.1" width="1.8" height="8.8" fill="#6a6a6a"/>
<rect x="827" y="281.1" width="32.2" height="8.8" rx="3.5" fill="#fbfbfb"/>
<rect x="851.7" y="281.1" width="7.5" height="8.8" rx="3.5" fill="#e2e2e2"/>
<rect x="836.8" y="281.1" width="1.8" height="8.8" fill="#6a6a6a"/>
<rect x="686" y="300.4" width="31" height="8.8" rx="3.5" fill="#fbfbfb"/>
<rect x="686" y="300.4" width="7.5" height="8.8" rx="3.5" fill="#e2e2e2"/>
<rect x="705.6" y="300.4" width="1.8" height="8.8" fill="#6a6a6a"/>
<rect x="827" y="300.4" width="32.2" height="8.8" rx="3.5" fill="#fbfbfb"/>
<rect x="851.7" y="300.4" width="7.5" height="8.8" rx="3.5" fill="#e2e2e2"/>
<rect x="836.8" y="300.4" width="1.8" height="8.8" fill="#6a6a6a"/>
<rect x="686" y="319.7" width="31" height="8.8" rx="3.5" fill="#fbfbfb"/>
<rect x="686" y="319.7" width="7.5" height="8.8" rx="3.5" fill="#e2e2e2"/>
<rect x="705.6" y="319.7" width="1.8" height="8.8" fill="#6a6a6a"/>
<rect x="827" y="319.7" width="32.2" height="8.8" rx="3.5" fill="#fbfbfb"/>
<rect x="851.7" y="319.7" width="7.5" height="8.8" rx="3.5" fill="#e2e2e2"/>
<rect x="836.8" y="319.7" width="1.8" height="8.8" fill="#6a6a6a"/>
<rect x="686" y="339.1" width="31" height="8.8" rx="3.5" fill="#fbfbfb"/>
<rect x="686" y="339.1" width="7.5" height="8.8" rx="3.5" fill="#e2e2e2"/>
<rect x="705.6" y="339.1" width="1.8" height="8.8" fill="#6a6a6a"/>
<rect x="827" y="339.1" width="32.2" height="8.8" rx="3.5" fill="#fbfbfb"/>
<rect x="851.7" y="339.1" width="7.5" height="8.8" rx="3.5" fill="#e2e2e2"/>
<rect x="836.8" y="339.1" width="1.8" height="8.8" fill="#6a6a6a"/>
<rect x="497.8" y="355.0" width="28.5" height="25.8" rx="4" fill="#244431"/>
<rect x="627.0" y="355.0" width="27.8" height="25.8" rx="4" fill="#244431"/>
<rect x="497.8" y="394.0" width="28.5" height="26.0" rx="4" fill="#244431"/>
<rect x="627.0" y="394.0" width="27.8" height="26.0" rx="4" fill="#244431"/>
<rect x="500.8" y="358" width="23" height="19.8" rx="1.5" fill="#efebe6"/>
<rect x="510.6" y="363.9" width="2.6" height="8" fill="#3a3a3a"/>
<rect x="629.5" y="358" width="22.3" height="19.8" rx="1.5" fill="#efebe6"/>
<rect x="639.4" y="363.9" width="2.6" height="8" fill="#3a3a3a"/>
<rect x="500.8" y="397" width="23" height="20.0" rx="1.5" fill="#efebe6"/>
<rect x="510.6" y="403.0" width="2.6" height="8" fill="#3a3a3a"/>
<rect x="629.5" y="397" width="22.3" height="20.0" rx="1.5" fill="#efebe6"/>
<rect x="639.4" y="403.0" width="2.6" height="8" fill="#3a3a3a"/>
<rect x="497.8" y="446.5" width="28.5" height="25.9" rx="4" fill="#244431"/>
<rect x="627.0" y="446.5" width="27.8" height="25.9" rx="4" fill="#244431"/>
<rect x="497.8" y="485.0" width="28.5" height="27.0" rx="4" fill="#244431"/>
<rect x="627.0" y="485.0" width="27.8" height="27.0" rx="4" fill="#244431"/>
<rect x="500.8" y="449.5" width="23" height="19.9" rx="1.5" fill="#efebe6"/>
<rect x="510.6" y="455.4" width="2.6" height="8" fill="#3a3a3a"/>
<rect x="629.5" y="449.5" width="22.3" height="19.9" rx="1.5" fill="#efebe6"/>
<rect x="639.4" y="455.4" width="2.6" height="8" fill="#3a3a3a"/>
<rect x="500.8" y="488" width="23" height="21.0" rx="1.5" fill="#efebe6"/>
<rect x="510.6" y="494.5" width="2.6" height="8" fill="#3a3a3a"/>
<rect x="629.5" y="488" width="22.3" height="21.0" rx="1.5" fill="#efebe6"/>
<rect x="639.4" y="494.5" width="2.6" height="8" fill="#3a3a3a"/>
<rect x="1026.3" y="41.8" width="102.2" height="98.2" fill="none" stroke="#f4f4f4" stroke-width="1.7"/>
<rect x="1020.6" y="68.6" width="14.1" height="44.0" rx="3" fill="#244431"/>
<rect x="1120.0" y="68.6" width="14.2" height="44.0" rx="3" fill="#244431"/>
<rect x="1023.6" y="71.6" width="9" height="38" fill="#e4e4e4"/>
<rect x="1122" y="71.6" width="9.2" height="38" fill="#e4e4e4"/>
<rect x="725.8" y="139.2" width="48.1" height="19.5" rx="5" fill="#244431"/>
<rect x="845.0" y="146.8" width="19.8" height="47.2" rx="5" fill="#244431"/>
<rect x="921.0" y="148.7" width="48.8" height="19.5" rx="5" fill="#244431"/>
<rect x="985.0" y="150.0" width="20.7" height="46.8" rx="5" fill="#244431"/>
<circle cx="1211.4" cy="173" r="19.8" fill="#244431"/>
<line x1="1211.4" y1="173" x2="1226.5" y2="188.1" stroke="#3e5f2d" stroke-width="6"/>
<line x1="1211.4" y1="173" x2="1196.3" y2="188.1" stroke="#3e5f2d" stroke-width="6"/>
<line x1="1211.4" y1="173" x2="1196.3" y2="157.9" stroke="#3e5f2d" stroke-width="6"/>
<line x1="1211.4" y1="173" x2="1226.5" y2="157.9" stroke="#3e5f2d" stroke-width="6"/>
<rect x="171.3" y="570.2" width="37.6" height="37.6" rx="4" fill="#244431"/>
<rect x="187.1" y="569.2" width="6" height="39.6" fill="#3e5f2d"/>
<rect x="170.3" y="586.0" width="39.6" height="6" fill="#3e5f2d"/>
<circle cx="974.5" cy="222.4" r="21.5" fill="#244431"/>
<line x1="974.5" y1="222.4" x2="997.5" y2="222.4" stroke="#3e5f2d" stroke-width="6"/>
<line x1="974.5" y1="222.4" x2="974.5" y2="245.4" stroke="#3e5f2d" stroke-width="6"/>
<line x1="974.5" y1="222.4" x2="951.5" y2="222.4" stroke="#3e5f2d" stroke-width="6"/>
<line x1="974.5" y1="222.4" x2="974.5" y2="199.4" stroke="#3e5f2d" stroke-width="6"/>
<circle cx="1012" cy="443.8" r="21.5" fill="#244431"/>
<line x1="1012" y1="443.8" x2="1028.3" y2="460.1" stroke="#3e5f2d" stroke-width="6"/>
<line x1="1012" y1="443.8" x2="995.7" y2="460.1" stroke="#3e5f2d" stroke-width="6"/>
<line x1="1012" y1="443.8" x2="995.7" y2="427.5" stroke="#3e5f2d" stroke-width="6"/>
<line x1="1012" y1="443.8" x2="1028.3" y2="427.5" stroke="#3e5f2d" stroke-width="6"/>
<rect x="1079.2" y="157.5" width="31.399999999999864" height="31.400000000000006" fill="#244431"/>
<rect x="1082.2" y="160.5" width="25.4" height="25.4" fill="#ffff4a"/>
<circle cx="1095" cy="173" r="7.7" fill="url(#bgu)"/>
<circle cx="1133.7" cy="173" r="15.8" fill="#244431"/>
<circle cx="1133.7" cy="173" r="13.3" fill="#ffff4a"/>
<circle cx="1133.7" cy="173" r="7.7" fill="url(#bgu)"/>
<circle cx="1172.3" cy="173" r="15.8" fill="#244431"/>
<circle cx="1172.3" cy="173" r="13.3" fill="#ffff4a"/>
<circle cx="1172.3" cy="173" r="7.7" fill="url(#bgu)"/>
<circle cx="1211.4" cy="173" r="15.8" fill="#244431"/>
<circle cx="1211.4" cy="173" r="13.3" fill="#ffff4a"/>
<circle cx="1211.4" cy="173" r="7.7" fill="url(#bgu)"/>
<rect x="174.3" y="573.2" width="31.599999999999994" height="31.59999999999991" fill="#244431"/>
<rect x="177.3" y="576.2" width="25.6" height="25.6" fill="#ffff4a"/>
<circle cx="190.3" cy="589" r="7.7" fill="url(#bgu)"/>
<circle cx="229" cy="589" r="15.5" fill="#244431"/>
<circle cx="229" cy="589" r="13" fill="#ffff4a"/>
<circle cx="229" cy="589" r="7.7" fill="url(#bgu)"/>
<circle cx="267.8" cy="589" r="15.5" fill="#244431"/>
<circle cx="267.8" cy="589" r="13" fill="#ffff4a"/>
<circle cx="267.8" cy="589" r="7.7" fill="url(#bgu)"/>
<circle cx="306.9" cy="589" r="15.5" fill="#244431"/>
<circle cx="306.9" cy="589" r="13" fill="#ffff4a"/>
<circle cx="306.9" cy="589" r="7.7" fill="url(#bgu)"/>
<rect x="870" y="310.4" width="36.7" height="54.1" fill="#244431"/>
<rect x="873" y="313.4" width="30.7" height="48.1" fill="#ffff4a"/>
<rect x="878" y="318.5" width="20.7" height="38" rx="10" fill="#9a9ab6"/>
<rect x="1040.6" y="310.4" width="37.9" height="54.1" fill="#244431"/>
<rect x="1043.6" y="313.4" width="31.9" height="48.1" fill="#ffff4a"/>
<rect x="1048.6" y="318.5" width="21.9" height="38" rx="10" fill="#9a9ab6"/>
<circle cx="936.5" cy="222.4" r="17.5" fill="#244431"/>
<circle cx="936.5" cy="222.4" r="15" fill="#ffff4a"/>
<circle cx="936.5" cy="222.4" r="8.5" fill="url(#bgu)"/>
<circle cx="974.5" cy="222.4" r="17.5" fill="#244431"/>
<circle cx="974.5" cy="222.4" r="15" fill="#ffff4a"/>
<circle cx="974.5" cy="222.4" r="8.5" fill="url(#bgu)"/>
<rect x="994" y="204.4" width="36" height="36.0" fill="#244431"/>
<rect x="997" y="207.4" width="30.0" height="30.0" fill="#ffff4a"/>
<circle cx="1012" cy="222.4" r="8.5" fill="url(#bgu)"/>
<circle cx="936.5" cy="443.8" r="17.5" fill="#244431"/>
<circle cx="936.5" cy="443.8" r="15" fill="#ffff4a"/>
<circle cx="936.5" cy="443.8" r="8.5" fill="url(#bgu)"/>
<circle cx="1012" cy="443.8" r="17.5" fill="#244431"/>
<circle cx="1012" cy="443.8" r="15" fill="#ffff4a"/>
<circle cx="1012" cy="443.8" r="8.5" fill="url(#bgu)"/>
<rect x="1154.0" y="257.5" width="35" height="27" rx="13.5" fill="#244431"/>
<rect x="1157.0" y="260.5" width="29" height="21" rx="10.5" fill="#9090b0" stroke="#ffff4a" stroke-width="3"/>
<rect x="1217.5" y="257.5" width="35" height="27" rx="13.5" fill="#244431"/>
<rect x="1220.5" y="260.5" width="29" height="21" rx="10.5" fill="#9090b0" stroke="#ffff4a" stroke-width="3"/>
<rect x="1154.0" y="382.5" width="35" height="27" rx="13.5" fill="#244431"/>
<rect x="1157.0" y="385.5" width="29" height="21" rx="10.5" fill="#9090b0" stroke="#ffff4a" stroke-width="3"/>
<rect x="1217.5" y="382.5" width="35" height="27" rx="13.5" fill="#244431"/>
<rect x="1220.5" y="385.5" width="29" height="21" rx="10.5" fill="#9090b0" stroke="#ffff4a" stroke-width="3"/>
<rect x="1152" y="280.7" width="14" height="105" fill="#fbf6dc"/>
<rect x="1152" y="284.5" width="14" height="3.2" fill="#244431"/>
<rect x="1152" y="293.1" width="14" height="3.2" fill="#244431"/>
<rect x="1152" y="301.7" width="14" height="3.2" fill="#244431"/>
<rect x="1152" y="310.3" width="14" height="3.2" fill="#244431"/>
<rect x="1152" y="318.9" width="14" height="3.2" fill="#244431"/>
<rect x="1152" y="327.5" width="14" height="3.2" fill="#244431"/>
<rect x="1152" y="336.1" width="14" height="3.2" fill="#244431"/>
<rect x="1152" y="344.7" width="14" height="3.2" fill="#244431"/>
<rect x="1152" y="353.3" width="14" height="3.2" fill="#244431"/>
<rect x="1152" y="361.9" width="14" height="3.2" fill="#244431"/>
<rect x="1152" y="370.5" width="14" height="3.2" fill="#244431"/>
<rect x="1152" y="379.1" width="14" height="3.2" fill="#244431"/>
<rect x="1088.9" y="240.8" width="19.3" height="49.4" rx="5" fill="#244431"/>
<rect x="1117.9" y="240.8" width="20.4" height="49.4" rx="5" fill="#244431"/>
<rect x="1087.8" y="387.0" width="22.2" height="49.6" rx="5" fill="#244431"/>
<rect x="1117.8" y="387.0" width="22.3" height="49.6" rx="5" fill="#244431"/>
<rect x="769.0" y="367.2" width="20.5" height="48.8" rx="5" fill="#244431"/>
<rect x="791.0" y="367.2" width="20.5" height="48.8" rx="5" fill="#244431"/>
<rect x="815.0" y="367.2" width="48.8" height="20.5" rx="5" fill="#244431"/>
<rect x="339.0" y="559.3" width="66.8" height="37.4" rx="5" fill="#244431"/>
<rect x="579.0" y="559.3" width="67.5" height="37.4" rx="5" fill="#244431"/>
<rect x="342" y="562.3" width="62" height="31.4" rx="4" fill="#e8e8e8"/>
<rect x="581" y="562.3" width="62.5" height="31.4" rx="4" fill="#e8e8e8"/>
<circle cx="679.8" cy="509.6" r="16.5" fill="#244431"/>
<circle cx="679.8" cy="509.6" r="13.5" fill="#8282a2" stroke="#ffff4a" stroke-width="3"/>
<circle cx="768.5" cy="509.6" r="16.5" fill="#244431"/>
<circle cx="768.5" cy="509.6" r="13.5" fill="#8282a2" stroke="#ffff4a" stroke-width="3"/>
<circle cx="679.8" cy="561" r="16.5" fill="#244431"/>
<circle cx="679.8" cy="561" r="13.5" fill="#8282a2" stroke="#ffff4a" stroke-width="3"/>
<circle cx="768.5" cy="561" r="16.5" fill="#244431"/>
<circle cx="768.5" cy="561" r="13.5" fill="#8282a2" stroke="#ffff4a" stroke-width="3"/>
<circle cx="679.8" cy="612" r="16.5" fill="#244431"/>
<circle cx="679.8" cy="612" r="13.5" fill="#8282a2" stroke="#ffff4a" stroke-width="3"/>
<circle cx="768.5" cy="612" r="16.5" fill="#244431"/>
<circle cx="768.5" cy="612" r="13.5" fill="#8282a2" stroke="#ffff4a" stroke-width="3"/>
<g filter="url(#gs)" clip-path="url(#boardclip)">
<text x="0" y="0" font-size="25" fill="#f4f4f4" stroke="#f4f4f4" stroke-width="0.45" text-anchor="start" transform="translate(81.5 42) scale(0.86 1)">H1</text>
<text x="0" y="0" font-size="25" fill="#f4f4f4" stroke="#f4f4f4" stroke-width="0.45" text-anchor="start" transform="translate(1181 42) scale(0.86 1)">H2</text>
<text x="0" y="0" font-size="25" fill="#f4f4f4" stroke="#f4f4f4" stroke-width="0.45" text-anchor="start" transform="translate(82 529) scale(0.86 1)">H3</text>
<text x="0" y="0" font-size="25" fill="#f4f4f4" stroke="#f4f4f4" stroke-width="0.45" text-anchor="start" transform="translate(1181 529) scale(0.86 1)">H4</text>
<text x="0" y="0" font-size="25" fill="#f4f4f4" stroke="#f4f4f4" stroke-width="0.45" text-anchor="start" transform="translate(171 218) rotate(-90) scale(0.86 1)">C14</text>
<text x="0" y="0" font-size="25" fill="#f4f4f4" stroke="#f4f4f4" stroke-width="0.45" text-anchor="start" transform="translate(79.8 167.4) scale(0.86 1)">U3</text>
<path d="M278.1 139.3 h9 M282.6 134.8 v9" stroke="#f4f4f4" stroke-width="1.7"/>
<text x="0" y="0" font-size="25" fill="#f4f4f4" stroke="#f4f4f4" stroke-width="0.45" text-anchor="start" transform="translate(316.5 201.5) rotate(-90) scale(0.86 1)">C29</text>
<path d="M407.7 197.2 h9 M412.2 192.7 v9" stroke="#f4f4f4" stroke-width="1.7"/>
<text x="0" y="0" font-size="25" fill="#f4f4f4" stroke="#f4f4f4" stroke-width="0.45" text-anchor="start" transform="translate(349.8 230.3) scale(0.86 1)">C21</text>
<text x="0" y="0" font-size="25" fill="#f4f4f4" stroke="#f4f4f4" stroke-width="0.45" text-anchor="start" transform="translate(233 274.4) scale(0.86 1)">R13</text>
<path d="M72 264.3 H97.5 M72 402.5 H97.5" stroke="#f4f4f4" stroke-width="2.4"/>
<text x="0" y="0" font-size="25" fill="#f4f4f4" stroke="#f4f4f4" stroke-width="0.45" text-anchor="start" transform="translate(190 346.2) rotate(-90) scale(0.86 1)">J3</text>
<text x="0" y="0" font-size="25" fill="#f4f4f4" stroke="#f4f4f4" stroke-width="0.45" text-anchor="start" transform="translate(178.6 392) rotate(-90) scale(0.86 1)">R5</text>
<text x="0" y="0" font-size="25" fill="#f4f4f4" stroke="#f4f4f4" stroke-width="0.45" text-anchor="start" transform="translate(216 390) rotate(-90) scale(0.86 1)">R7</text>
<text x="0" y="0" font-size="25" fill="#f4f4f4" stroke="#f4f4f4" stroke-width="0.45" text-anchor="start" transform="translate(128.6 456.2) rotate(-90) scale(0.86 1)">C19</text>
<text x="0" y="0" font-size="25" fill="#f4f4f4" stroke="#f4f4f4" stroke-width="0.45" text-anchor="start" transform="translate(82.2 442.5) scale(0.86 1)">U6</text>
<text x="0" y="0" font-size="25" fill="#f4f4f4" stroke="#f4f4f4" stroke-width="0.45" text-anchor="start" transform="translate(76 410) scale(0.86 1)">C18</text>
<text x="0" y="0" font-size="25" fill="#f4f4f4" stroke="#f4f4f4" stroke-width="0.45" text-anchor="start" transform="translate(156 523.7) rotate(-90) scale(0.86 1)">C5</text>
<path d="M297.5 427 h9 M302 422.5 v9" stroke="#f4f4f4" stroke-width="1.7"/>
<text x="0" y="0" font-size="25" fill="#f4f4f4" stroke="#f4f4f4" stroke-width="0.45" text-anchor="start" transform="translate(240.4 459) scale(0.86 1)">C32</text>
<polygon points="183.4,472 233.8,472 233.8,501.9 227.8,507.9 183.4,507.9" fill="#244431" stroke="#f4f4f4" stroke-width="1.8"/>
<polygon points="253.2,472.4 303.9,472.4 303.9,502.8 297.9,508.8 253.2,508.8" fill="#244431" stroke="#f4f4f4" stroke-width="1.8"/>
<text x="0" y="0" font-size="25" fill="#f4f4f4" stroke="#f4f4f4" stroke-width="0.45" text-anchor="start" transform="translate(196 528.3) scale(0.86 1)">D1</text>
<text x="0" y="0" font-size="25" fill="#f4f4f4" stroke="#f4f4f4" stroke-width="0.45" text-anchor="start" transform="translate(349 545) rotate(-90) scale(0.86 1)">C49</text>
<path d="M438.8 365.7 h9 M443.3 361.2 v9" stroke="#f4f4f4" stroke-width="1.7"/>
<text x="0" y="0" font-size="25" fill="#f4f4f4" stroke="#f4f4f4" stroke-width="0.45" text-anchor="start" transform="translate(380.5 397.7) scale(0.86 1)">C39</text>
<text x="0" y="0" font-size="25" fill="#f4f4f4" stroke="#f4f4f4" stroke-width="0.45" text-anchor="start" transform="translate(380.5 397.7) scale(0.86 1)">C47</text>
<path d="M335.5 429 h9 M340 424.5 v9" stroke="#f4f4f4" stroke-width="1.7"/>
<text x="0" y="0" font-size="25" fill="#f4f4f4" stroke="#f4f4f4" stroke-width="0.45" text-anchor="start" transform="translate(460.6 426) rotate(-90) scale(0.86 1)">R22</text>
<path d="M544.0 293 h9 M548.5 288.5 v9" stroke="#f4f4f4" stroke-width="1.7"/>
<text x="0" y="0" font-size="25" fill="#f4f4f4" stroke="#f4f4f4" stroke-width="0.45" text-anchor="start" transform="translate(518.5 251.3) rotate(-90) scale(0.86 1)">C48</text>
<text x="0" y="0" font-size="25" fill="#f4f4f4" stroke="#f4f4f4" stroke-width="0.45" text-anchor="start" transform="translate(534.6 201.9) rotate(-90) scale(0.86 1)">R23</text>
<text x="0" y="0" font-size="25" fill="#f4f4f4" stroke="#f4f4f4" stroke-width="0.45" text-anchor="start" transform="translate(637.2 246.5) rotate(-90) scale(0.86 1)">C12</text>
<text x="0" y="0" font-size="25" fill="#f4f4f4" stroke="#f4f4f4" stroke-width="0.45" text-anchor="start" transform="translate(679.4 300.8) rotate(-90) scale(0.86 1)">C10</text>
<path d="M713 201 V195.5 H831 V201 M713 350 V355 H831 V350" fill="none" stroke="#f4f4f4" stroke-width="1.7"/>
<path d="M694.9 191.5 h10.9 l-5.45 8.3 z" fill="#f4f4f4"/>
<text x="0" y="0" font-size="25" fill="#f4f4f4" stroke="#f4f4f4" stroke-width="0.45" text-anchor="start" transform="translate(759.5 189.8) scale(0.86 1)">U4</text>
<path d="M524 346.3 H630 M524 428.9 H630" stroke="#f4f4f4" stroke-width="1.7"/>
<circle cx="515" cy="348.3" r="2.3" fill="none" stroke="#f4f4f4" stroke-width="1.2"/>
<path d="M524 437.9 H630 M524 520.5 H630" stroke="#f4f4f4" stroke-width="1.7"/>
<circle cx="515" cy="439.9" r="2.3" fill="none" stroke="#f4f4f4" stroke-width="1.2"/>
<text x="0" y="0" font-size="25" fill="#f4f4f4" stroke="#f4f4f4" stroke-width="0.45" text-anchor="start" transform="translate(885.4 189.7) rotate(-90) scale(0.86 1)">C16</text>
<text x="0" y="0" font-size="25" fill="#f4f4f4" stroke="#f4f4f4" stroke-width="0.45" text-anchor="start" transform="translate(925 146) scale(0.86 1)">C15</text>
<text x="0" y="0" font-size="25" fill="#f4f4f4" stroke="#f4f4f4" stroke-width="0.45" text-anchor="start" transform="translate(981.8 192.4) rotate(-90) scale(0.86 1)">C11</text>
<circle cx="990" cy="140.8" r="2.6" fill="none" stroke="#f4f4f4" stroke-width="1.5"/>
<rect x="1113.6" y="151.3" width="119.4" height="43" fill="none" stroke="#f4f4f4" stroke-width="1.7"/>
<path d="M1073.8 171.4 V194.3 H1095.5" fill="none" stroke="#f4f4f4" stroke-width="1.7"/>
<text x="0" y="0" font-size="25" fill="#f4f4f4" stroke="#f4f4f4" stroke-width="0.45" text-anchor="start" transform="translate(1066.5 185.9) rotate(-90) scale(0.86 1)">J2</text>
<text x="0" y="0" font-size="25" fill="#f4f4f4" stroke="#f4f4f4" stroke-width="0.45" text-anchor="start" transform="translate(1066.5 166.5) scale(0.86 1)">L1</text>
<rect x="209.3" y="568" width="119" height="42.2" fill="none" stroke="#f4f4f4" stroke-width="1.7"/>
<path d="M169.1 588.7 V610.2 H190.6" fill="none" stroke="#f4f4f4" stroke-width="1.7"/>
<text x="0" y="0" font-size="25" fill="#f4f4f4" stroke="#f4f4f4" stroke-width="0.45" text-anchor="start" transform="translate(161.5 601) rotate(-90) scale(0.86 1)">J1</text>
<path d="M884 305 V244.7 H1064 V305 M884 370 V430.6 H920 M953 430.6 H996 M1029 430.6 H1064 V370" fill="none" stroke="#f4f4f4" stroke-width="1.7"/>
<circle cx="974.5" cy="337.5" r="46" fill="none" stroke="#f4f4f4" stroke-width="1.7"/>
<path d="M966 337.5 h17 M974.5 329 v17" stroke="#f4f4f4" stroke-width="1.7"/>
<path d="M1036 218.5 L1030.5 222.4 L1036 226.3 Z" fill="none" stroke="#f4f4f4" stroke-width="1.2"/>
<text x="0" y="0" font-size="25" fill="#f4f4f4" stroke="#f4f4f4" stroke-width="0.45" text-anchor="start" transform="translate(869 458) scale(0.86 1)">J7</text>
<text x="0" y="0" font-size="25" fill="#f4f4f4" stroke="#f4f4f4" stroke-width="0.45" text-anchor="start" transform="translate(1039 458) scale(0.86 1)">J6</text>
<path d="M1186 263.6 H1221 M1186 403.5 H1221" stroke="#f4f4f4" stroke-width="1.7"/>
<text x="0" y="0" font-size="25" fill="#f4f4f4" stroke="#f4f4f4" stroke-width="0.45" text-anchor="start" transform="translate(1145 345) rotate(-90) scale(0.86 1)">J4</text>
<text x="0" y="0" font-size="23" fill="#f4f4f4" stroke="#f4f4f4" stroke-width="0.45" text-anchor="start" transform="translate(1075.3 277.5) rotate(-90) scale(0.86 0.55)">R8</text>
<text x="0" y="0" font-size="20.6" fill="#f4f4f4" stroke="#f4f4f4" stroke-width="0.45" text-anchor="start" transform="translate(1091 287) rotate(-90) scale(0.86 0.9)">SW1</text>
<text x="0" y="0" font-size="20" fill="#f4f4f4" stroke="#f4f4f4" stroke-width="0.45" text-anchor="start" transform="translate(1114.7 275) rotate(-90) scale(0.86 0.77)">R9</text>
<text x="0" y="0" font-size="22" fill="#f4f4f4" stroke="#f4f4f4" stroke-width="0.45" text-anchor="start" transform="translate(1120.5 423.3) rotate(-90) scale(0.86 0.69)">R6</text>
<text x="0" y="0" font-size="25" fill="#f4f4f4" stroke="#f4f4f4" stroke-width="0.45" text-anchor="start" transform="translate(1158.4 431.4) rotate(-90) scale(0.86 1)">R10</text>
<text x="0" y="0" font-size="25" fill="#f4f4f4" stroke="#f4f4f4" stroke-width="0.45" text-anchor="start" transform="translate(819.7 363.5) scale(0.86 1)">C17</text>
<text x="0" y="0" font-size="25" fill="#f4f4f4" stroke="#f4f4f4" stroke-width="0.45" text-anchor="start" transform="translate(832.4 411.2) rotate(-90) scale(0.86 1)">R11</text>
<text x="0" y="0" font-size="25" fill="#f4f4f4" stroke="#f4f4f4" stroke-width="0.45" text-anchor="start" transform="translate(711.8 400.5) rotate(-90) scale(0.86 1)">T2</text>
<path d="M584.5 538.5 H337.4 V618 H584.5" fill="none" stroke="#f4f4f4" stroke-width="1.7"/>
<text x="0" y="0" font-size="25" fill="#f4f4f4" stroke="#f4f4f4" stroke-width="0.45" text-anchor="start" transform="translate(479.6 532) scale(0.86 1)">Y1</text>
<text x="0" y="0" font-size="25" fill="#f4f4f4" stroke="#f4f4f4" stroke-width="0.45" text-anchor="start" transform="translate(623 572.5) rotate(-90) scale(0.86 1)">J5</text>
</g>
<rect x="134" y="177" width="14" height="12.9" rx="3" fill="#e4e4e4"/>
<rect x="134" y="205.6" width="14" height="12.9" rx="3" fill="#e4e4e4"/>
<rect x="134" y="185.9" width="14" height="4" fill="#fbfbfb"/>
<rect x="134" y="205.6" width="14" height="4" fill="#fbfbfb"/>
<rect x="135.3" y="189.9" width="11.4" height="15.8" fill="#9f7a68"/>
<rect x="74" y="230.4" width="13.2" height="14" rx="3" fill="#e4e4e4"/>
<rect x="103.4" y="230.4" width="13.2" height="14" rx="3" fill="#e4e4e4"/>
<rect x="83.2" y="230.4" width="4" height="14" fill="#fbfbfb"/>
<rect x="103.4" y="230.4" width="4" height="14" fill="#fbfbfb"/>
<rect x="87.2" y="231.7" width="16.2" height="11.4" fill="#9f7a68"/>
<rect x="81.8" y="175.2" width="22.9" height="42.4" rx="1.5" fill="#505050" stroke="#111" stroke-width="1"/>
<polygon points="226.3,162.9 241.3,147.9 276.7,147.9 291.7,162.9 291.7,212.7 226.3,212.7" fill="#4d4b4e"/>
<clipPath id="cc1"><rect x="227.1" y="148.7" width="63.8" height="41.1"/></clipPath>
<circle cx="259" cy="180.6" r="29.9" fill="url(#capd)"/>
<circle cx="259" cy="180.6" r="29.9" fill="url(#capw)" clip-path="url(#cc1)"/>
<polygon points="337.9,140.8 388.9,140.8 402.9,154.8 402.9,191.5 388.9,205.5 337.9,205.5" fill="#4d4b4e"/>
<clipPath id="cc2"><rect x="360.6" y="141.0" width="42.1" height="64.2"/></clipPath>
<circle cx="370.6" cy="173.1" r="30.1" fill="url(#capd)"/>
<circle cx="370.6" cy="173.1" r="30.1" fill="url(#capw)" clip-path="url(#cc2)"/>
<rect x="231.4" y="281.7" width="13.1" height="13.5" rx="3" fill="#e4e4e4"/>
<rect x="260.6" y="281.7" width="13.1" height="13.5" rx="3" fill="#e4e4e4"/>
<rect x="240.5" y="281.7" width="4" height="13.5" fill="#fbfbfb"/>
<rect x="260.6" y="281.7" width="4" height="13.5" fill="#fbfbfb"/>
<rect x="244.5" y="283.0" width="16.1" height="10.9" fill="#383838"/>
<path d="M19.5 264.8 H118 Q121 264.8 121 267.8 V282 H114 V385 H121 V398.8 Q121 401.8 118 401.8 H19.5 Q16.5 401.8 16.5 398.8 V267.8 Q16.5 264.8 19.5 264.8 Z" fill="url(#usbv)"/>
<rect x="103" y="311" width="9" height="45.7" rx="2" fill="#5e5e5e"/>
<rect x="91.8" y="301.8" width="7" height="2.4" fill="#9a9a9a"/>
<rect x="91.8" y="309.40000000000003" width="7" height="2.4" fill="#9a9a9a"/>
<rect x="91.8" y="355.5" width="7" height="2.4" fill="#9a9a9a"/>
<rect x="91.8" y="363.2" width="7" height="2.4" fill="#9a9a9a"/>
<rect x="149.2" y="358" width="14.5" height="13.0" rx="3" fill="#e4e4e4"/>
<rect x="149.2" y="387.0" width="14.5" height="13.0" rx="3" fill="#e4e4e4"/>
<rect x="149.2" y="367.0" width="14.5" height="4" fill="#fbfbfb"/>
<rect x="149.2" y="387.0" width="14.5" height="4" fill="#fbfbfb"/>
<rect x="150.5" y="371.0" width="11.9" height="16.0" fill="#383838"/>
<rect x="179.8" y="358" width="14.5" height="13.0" rx="3" fill="#e4e4e4"/>
<rect x="179.8" y="387.0" width="14.5" height="13.0" rx="3" fill="#e4e4e4"/>
<rect x="179.8" y="367.0" width="14.5" height="4" fill="#fbfbfb"/>
<rect x="179.8" y="387.0" width="14.5" height="4" fill="#fbfbfb"/>
<rect x="181.1" y="371.0" width="11.9" height="16.0" fill="#383838"/>
<rect x="72" y="417.2" width="12.6" height="13.7" rx="3" fill="#e4e4e4"/>
<rect x="100.2" y="417.2" width="12.6" height="13.7" rx="3" fill="#e4e4e4"/>
<rect x="80.6" y="417.2" width="4" height="13.7" fill="#fbfbfb"/>
<rect x="100.2" y="417.2" width="4" height="13.7" fill="#fbfbfb"/>
<rect x="84.6" y="418.5" width="15.5" height="11.1" fill="#9f7a68"/>
<rect x="135.4" y="417.2" width="14.4" height="12.7" rx="3" fill="#e4e4e4"/>
<rect x="135.4" y="445.5" width="14.4" height="12.7" rx="3" fill="#e4e4e4"/>
<rect x="135.4" y="425.9" width="14.4" height="4" fill="#fbfbfb"/>
<rect x="135.4" y="445.5" width="14.4" height="4" fill="#fbfbfb"/>
<rect x="136.7" y="429.9" width="11.8" height="15.6" fill="#9f7a68"/>
<rect x="83.9" y="450.3" width="22.8" height="42.8" rx="1.5" fill="#505050" stroke="#111" stroke-width="1"/>
<rect x="163.5" y="491.6" width="13.7" height="12.6" rx="3" fill="#e4e4e4"/>
<rect x="163.5" y="519.7" width="13.7" height="12.6" rx="3" fill="#e4e4e4"/>
<rect x="163.5" y="500.2" width="13.7" height="4" fill="#fbfbfb"/>
<rect x="163.5" y="519.7" width="13.7" height="4" fill="#fbfbfb"/>
<rect x="164.8" y="504.2" width="11.1" height="15.5" fill="#9f7a68"/>
<polygon points="227.4,369.9 279.7,369.9 295.7,385.9 295.7,419.9 279.7,435.9 227.4,435.9" fill="#4d4b4e"/>
<clipPath id="cc3"><rect x="250.5" y="370.2" width="42.2" height="64.4"/></clipPath>
<circle cx="260.5" cy="402.4" r="30.2" fill="url(#capd)"/>
<circle cx="260.5" cy="402.4" r="30.2" fill="url(#capw)" clip-path="url(#cc3)"/>
<rect x="188.9" y="475.8" width="5.3" height="11.7" rx="1.5" fill="#e2e2e2"/>
<rect x="188.9" y="493.3" width="5.3" height="10.5" rx="1.5" fill="#e2e2e2"/>
<rect x="223.0" y="475.8" width="5.3" height="11.7" rx="1.5" fill="#e2e2e2"/>
<rect x="223.0" y="493.3" width="5.3" height="10.5" rx="1.5" fill="#e2e2e2"/>
<rect x="193.2" y="474.3" width="30.7" height="30.9" fill="#f6f6f6"/>
<rect x="200.0" y="474.3" width="16.4" height="30.9" fill="#ffffff" stroke="#8a8a8a" stroke-width="0.9"/>
<rect x="258.8" y="476.2" width="5.3" height="11.7" rx="1.5" fill="#e2e2e2"/>
<rect x="258.8" y="493.7" width="5.3" height="10.5" rx="1.5" fill="#e2e2e2"/>
<rect x="293.0" y="476.2" width="5.3" height="11.7" rx="1.5" fill="#e2e2e2"/>
<rect x="293.0" y="493.7" width="5.3" height="10.5" rx="1.5" fill="#e2e2e2"/>
<rect x="263.1" y="474.7" width="30.9" height="31.4" fill="#f6f6f6"/>
<rect x="269.9" y="474.7" width="16.5" height="31.4" fill="#ffffff" stroke="#8a8a8a" stroke-width="0.9"/>
<rect x="258.3" y="513.6" width="13.1" height="14.8" rx="3" fill="#e4e4e4"/>
<rect x="287.4" y="513.6" width="13.1" height="14.8" rx="3" fill="#e4e4e4"/>
<rect x="267.4" y="513.6" width="4" height="14.8" fill="#fbfbfb"/>
<rect x="287.4" y="513.6" width="4" height="14.8" fill="#fbfbfb"/>
<rect x="271.4" y="514.9" width="16.0" height="12.2" fill="#9f7a68"/>
<rect x="316.5" y="504" width="13.5" height="13.0" rx="3" fill="#e4e4e4"/>
<rect x="316.5" y="532.9" width="13.5" height="13.0" rx="3" fill="#e4e4e4"/>
<rect x="316.5" y="513.0" width="13.5" height="4" fill="#fbfbfb"/>
<rect x="316.5" y="532.9" width="13.5" height="4" fill="#fbfbfb"/>
<rect x="317.8" y="517.0" width="10.9" height="15.9" fill="#9f7a68"/>
<polygon points="368.3,308.2 421.2,308.2 434.2,321.2 434.2,361.2 421.2,374.2 368.3,374.2" fill="#4d4b4e"/>
<clipPath id="cc4"><rect x="391.8" y="309.0" width="41.1" height="64.4"/></clipPath>
<circle cx="400.7" cy="341.2" r="30.2" fill="url(#capd)"/>
<circle cx="400.7" cy="341.2" r="30.2" fill="url(#capw)" clip-path="url(#cc4)"/>
<polygon points="367.0,404.0 453.0,404.0 453.0,508.0 367.0,508.0 351.0,492.0 351.0,420.0" fill="#4d4b4e"/>
<clipPath id="cc5"><rect x="351.2" y="407.2" width="64.5" height="99.6"/></clipPath>
<circle cx="401" cy="457" r="47.8" fill="url(#capd)"/>
<circle cx="401" cy="457" r="47.8" fill="url(#capw)" clip-path="url(#cc5)"/>
<rect x="467.2" y="385" width="14.2" height="12.9" rx="3" fill="#e4e4e4"/>
<rect x="467.2" y="413.8" width="14.2" height="12.9" rx="3" fill="#e4e4e4"/>
<rect x="467.2" y="393.9" width="14.2" height="4" fill="#fbfbfb"/>
<rect x="467.2" y="413.8" width="14.2" height="4" fill="#fbfbfb"/>
<rect x="468.5" y="397.9" width="11.6" height="15.8" fill="#383838"/>
<polygon points="526.2,180.2 627.5,180.2 627.5,268.2 613.5,282.2 540.2,282.2 526.2,268.2" fill="#4d4b4e"/>
<clipPath id="cc6"><rect x="527.9" y="216.3" width="98.0" height="63.5"/></clipPath>
<circle cx="576.9" cy="230.8" r="47" fill="url(#capd)"/>
<circle cx="576.9" cy="230.8" r="47" fill="url(#capw)" clip-path="url(#cc6)"/>
<rect x="497.2" y="160.9" width="14" height="13.1" rx="3" fill="#e4e4e4"/>
<rect x="497.2" y="189.9" width="14" height="13.1" rx="3" fill="#e4e4e4"/>
<rect x="497.2" y="170.0" width="14" height="4" fill="#fbfbfb"/>
<rect x="497.2" y="189.9" width="14" height="4" fill="#fbfbfb"/>
<rect x="498.5" y="174.0" width="11.4" height="16.0" fill="#383838"/>
<rect x="643.2" y="206" width="13.8" height="12.9" rx="3" fill="#e4e4e4"/>
<rect x="643.2" y="234.8" width="13.8" height="12.9" rx="3" fill="#e4e4e4"/>
<rect x="643.2" y="214.9" width="13.8" height="4" fill="#fbfbfb"/>
<rect x="643.2" y="234.8" width="13.8" height="4" fill="#fbfbfb"/>
<rect x="644.5" y="218.9" width="11.2" height="15.8" fill="#9f7a68"/>
<rect x="643.2" y="259.8" width="13.8" height="12.9" rx="3" fill="#e4e4e4"/>
<rect x="643.2" y="288.6" width="13.8" height="12.9" rx="3" fill="#e4e4e4"/>
<rect x="643.2" y="268.7" width="13.8" height="4" fill="#fbfbfb"/>
<rect x="643.2" y="288.6" width="13.8" height="4" fill="#fbfbfb"/>
<rect x="644.5" y="272.7" width="11.2" height="15.8" fill="#9f7a68"/>
<rect x="716.4" y="198" width="111.2" height="154.5" rx="2" fill="#525052" stroke="#0c0c0c" stroke-width="2"/>
<circle cx="730.7" cy="213" r="4.2" fill="#fbf3dc"/>
<rect x="523.3" y="347.8" width="106.7" height="79.6" rx="3" fill="#5a5a5a" stroke="#2e2e2e" stroke-width="1.2"/>
<circle cx="536.7" cy="364.6" r="5.2" fill="#ffffff"/>
<rect x="523.3" y="439.4" width="106.7" height="79.6" rx="3" fill="#5a5a5a" stroke="#2e2e2e" stroke-width="1.2"/>
<circle cx="536.7" cy="456.2" r="5.2" fill="#ffffff"/>
<path d="M707.3 136 V41.8 H1009.6 V135.5" fill="none" stroke="#f8f8f8" stroke-width="2.8" stroke-linejoin="round"/>
<rect x="708.4" y="43.4" width="299.3" height="91.3" rx="3" fill="#3e3e3e"/>
<rect x="709.6" y="44.6" width="296.6" height="88.6" rx="2.5" fill="#737373"/>
<polygon points="1039.8,45.4 1114.9,45.4 1114.9,59.8 1123,68.9 1123,112.3 1114.9,121.3 1114.9,136.7 1039.8,136.7 1039.8,121.3 1031.7,112.3 1031.7,68.9 1039.8,59.8" fill="#c6c6c6"/>
<path d="M1071 50 h6 M1071 133 h6" stroke="#888" stroke-width="1"/>
<path d="M1058 56 h12 M1058 60 h12" stroke="#f4f4f4" stroke-width="1.5"/><circle cx="1075" cy="58" r="3.5" fill="none" stroke="#f4f4f4" stroke-width="1.3"/>
<rect x="728.8" y="142.2" width="13.1" height="13.5" rx="3" fill="#e4e4e4"/>
<rect x="757.8" y="142.2" width="13.1" height="13.5" rx="3" fill="#e4e4e4"/>
<rect x="737.9" y="142.2" width="4" height="13.5" fill="#fbfbfb"/>
<rect x="757.8" y="142.2" width="4" height="13.5" fill="#fbfbfb"/>
<rect x="741.9" y="143.5" width="16.0" height="10.9" fill="#9f7a68"/>
<rect x="848" y="149.8" width="13.8" height="12.8" rx="3" fill="#e4e4e4"/>
<rect x="848" y="178.2" width="13.8" height="12.8" rx="3" fill="#e4e4e4"/>
<rect x="848" y="158.6" width="13.8" height="4" fill="#fbfbfb"/>
<rect x="848" y="178.2" width="13.8" height="4" fill="#fbfbfb"/>
<rect x="849.3" y="162.6" width="11.2" height="15.7" fill="#9f7a68"/>
<rect x="924" y="151.7" width="13.3" height="13.5" rx="3" fill="#e4e4e4"/>
<rect x="953.5" y="151.7" width="13.3" height="13.5" rx="3" fill="#e4e4e4"/>
<rect x="933.3" y="151.7" width="4" height="13.5" fill="#fbfbfb"/>
<rect x="953.5" y="151.7" width="4" height="13.5" fill="#fbfbfb"/>
<rect x="937.3" y="153.0" width="16.3" height="10.9" fill="#9f7a68"/>
<rect x="988" y="153" width="14.7" height="12.6" rx="3" fill="#e4e4e4"/>
<rect x="988" y="181.2" width="14.7" height="12.6" rx="3" fill="#e4e4e4"/>
<rect x="988" y="161.6" width="14.7" height="4" fill="#fbfbfb"/>
<rect x="988" y="181.2" width="14.7" height="4" fill="#fbfbfb"/>
<rect x="989.3" y="165.6" width="12.1" height="15.5" fill="#9f7a68"/>
<rect x="1163.4" y="265.5" width="112" height="136.2" rx="3" fill="url(#usbv)"/>
<rect x="1163.4" y="265.5" width="10.6" height="11.7" fill="#7a7a7a"/>
<rect x="1163.4" y="390" width="10.6" height="11.7" fill="#7a7a7a"/>
<rect x="1163.4" y="299" width="13.6" height="19.5" fill="#5e5e5e"/>
<rect x="1163.4" y="308.8" width="10" height="9.8" fill="#d8d8d8"/>
<rect x="1163.4" y="349.6" width="13.6" height="19.4" fill="#5e5e5e"/>
<rect x="1163.4" y="359.3" width="10" height="9.7" fill="#d8d8d8"/>
<rect x="1197.5" y="295" width="7.5" height="16.0" rx="3" fill="none" stroke="#b4b4b4" stroke-width="1.3"/>
<rect x="1197.5" y="356.6" width="7.5" height="15.2" rx="3" fill="none" stroke="#b4b4b4" stroke-width="1.3"/>
<path d="M1233 292.9 H1232 Q1229 292.9 1229 296 V316.4 Q1229 319.4 1232 319.4 H1233 Z" fill="#5a5a5a"/>
<path d="M1233 292.9 H1265 Q1267 292.9 1267 294.7 V296.5 H1233 Z" fill="#fbf7c8"/>
<path d="M1233 296.5 H1266 L1233 302.5 Z" fill="#5a5a5a"/>
<path d="M1233 311 L1266 315.5 V318 Q1266 319.4 1264 319.4 H1233 Z" fill="#fbf7c8"/>
<path d="M1233 318.6 H1265 V319.6 H1233 Z" fill="#777"/>
<path d="M1233 348 H1232 Q1229 348 1229 351 V372.3 Q1229 375.3 1232 375.3 H1233 Z" fill="#5a5a5a"/>
<path d="M1233 348 H1264 Q1267 348 1267 351 H1233 Z" fill="#5a5a5a"/>
<path d="M1233 350.5 H1266 L1233 356 Z" fill="#fbf7c8"/>
<path d="M1233 365.5 L1266 371.5 V372 H1233 Z" fill="#5a5a5a"/>
<path d="M1233 371.8 H1266 V373.5 Q1266 375.3 1264 375.3 H1233 Z" fill="#fbf7c8"/>
<rect x="1091.9" y="243.8" width="13.3" height="13.5" rx="3" fill="#e4e4e4"/>
<rect x="1091.9" y="273.7" width="13.3" height="13.5" rx="3" fill="#e4e4e4"/>
<rect x="1091.9" y="253.3" width="13.3" height="4" fill="#fbfbfb"/>
<rect x="1091.9" y="273.7" width="13.3" height="4" fill="#fbfbfb"/>
<rect x="1093.2" y="257.3" width="10.7" height="16.5" fill="#383838"/>
<rect x="1120.9" y="243.8" width="14.4" height="13.5" rx="3" fill="#e4e4e4"/>
<rect x="1120.9" y="273.7" width="14.4" height="13.5" rx="3" fill="#e4e4e4"/>
<rect x="1120.9" y="253.3" width="14.4" height="4" fill="#fbfbfb"/>
<rect x="1120.9" y="273.7" width="14.4" height="4" fill="#fbfbfb"/>
<rect x="1122.2" y="257.3" width="11.8" height="16.5" fill="#383838"/>
<rect x="1090.8" y="390" width="16.2" height="13.5" rx="3" fill="#e4e4e4"/>
<rect x="1090.8" y="420.1" width="16.2" height="13.5" rx="3" fill="#e4e4e4"/>
<rect x="1090.8" y="399.5" width="16.2" height="4" fill="#fbfbfb"/>
<rect x="1090.8" y="420.1" width="16.2" height="4" fill="#fbfbfb"/>
<rect x="1092.1" y="403.5" width="13.6" height="16.6" fill="#383838"/>
<rect x="1120.8" y="390" width="16.3" height="13.5" rx="3" fill="#e4e4e4"/>
<rect x="1120.8" y="420.1" width="16.3" height="13.5" rx="3" fill="#e4e4e4"/>
<rect x="1120.8" y="399.5" width="16.3" height="4" fill="#fbfbfb"/>
<rect x="1120.8" y="420.1" width="16.3" height="4" fill="#fbfbfb"/>
<rect x="1122.1" y="403.5" width="13.7" height="16.6" fill="#383838"/>
<rect x="772" y="370.2" width="14.5" height="13.3" rx="3" fill="#e4e4e4"/>
<rect x="772" y="399.7" width="14.5" height="13.3" rx="3" fill="#e4e4e4"/>
<rect x="772" y="379.5" width="14.5" height="4" fill="#fbfbfb"/>
<rect x="772" y="399.7" width="14.5" height="4" fill="#fbfbfb"/>
<rect x="773.3" y="383.5" width="11.9" height="16.3" fill="#383838"/>
<rect x="794" y="370.2" width="14.5" height="13.3" rx="3" fill="#e4e4e4"/>
<rect x="794" y="399.7" width="14.5" height="13.3" rx="3" fill="#e4e4e4"/>
<rect x="794" y="379.5" width="14.5" height="4" fill="#fbfbfb"/>
<rect x="794" y="399.7" width="14.5" height="4" fill="#fbfbfb"/>
<rect x="795.3" y="383.5" width="11.9" height="16.3" fill="#383838"/>
<rect x="818" y="370.2" width="13.3" height="14.5" rx="3" fill="#e4e4e4"/>
<rect x="847.5" y="370.2" width="13.3" height="14.5" rx="3" fill="#e4e4e4"/>
<rect x="827.3" y="370.2" width="4" height="14.5" fill="#fbfbfb"/>
<rect x="847.5" y="370.2" width="4" height="14.5" fill="#fbfbfb"/>
<rect x="831.3" y="371.5" width="16.3" height="11.9" fill="#9f7a68"/>
<rect x="397" y="571" width="6" height="14.7" fill="#ff7a2e"/><rect x="582" y="571" width="6" height="14.7" fill="#ff7a2e"/>
<rect x="402.8" y="543" width="179.5" height="70.9" fill="#4d4b4e"/>
<rect x="413.9" y="549" width="157.9" height="59.3" rx="29.6" fill="#c4c4c4" stroke="#dedede" stroke-width="2"/>
<rect x="417.5" y="552.5" width="150.7" height="52.3" rx="26" fill="#c0c0c0" stroke="#8e8e8e" stroke-width="1"/>
<rect x="675.8" y="459.3" width="96.5" height="178" fill="#f0f0f0"/>
<rect x="687" y="636" width="74.7" height="25" fill="url(#blackcyl)"/>
<rect x="677.1" y="460.5" width="93.7" height="31.7" fill="#474747"/>
<rect x="674.8" y="492.2" width="98.8" height="30.2" fill="#ffffff"/>
<path d="M701 477.2 H747 V492.2 L735.2 507.3 H713 L701 492.2 Z" fill="url(#blackcyl)"/>
<rect x="713.5" y="478.5" width="21.7" height="29.3" fill="#ffffff"/>
<rect x="677.1" y="522.4" width="93.7" height="23.6" fill="#474747"/>
<rect x="674.8" y="546" width="98.8" height="30.2" fill="#ffffff"/>
<path d="M701 522.4 H747 V546 L735.2 561 H713 L701 546 Z" fill="url(#blackcyl)"/>
<rect x="713.5" y="532.6" width="21.7" height="28.9" fill="#ffffff"/>
<rect x="677.1" y="576.2" width="93.7" height="18.5" fill="#474747"/>
<rect x="674.8" y="594.7" width="98.8" height="39.0" fill="#ffffff"/>
<path d="M701 576.2 H747 V594.7 L735.2 614.2 H713 L701 594.7 Z" fill="url(#blackcyl)"/>
<rect x="713.5" y="584.5" width="21.7" height="30.2" fill="#ffffff"/>
<rect x="677.1" y="633.7" width="93.7" height="3.7" fill="#474747"/>
<rect x="818" y="639" width="128.0" height="22" fill="url(#silver)"/>
<rect x="804.0" y="483.2" width="156.8" height="157.8" rx="2" fill="#f2f2f2"/>
<rect x="806.8" y="486.7" width="152.1" height="154.3" rx="2" fill="#ffff4d"/>
<rect x="867.5" y="482.7" width="30" height="4.5" fill="#244431"/>
<circle cx="882.5" cy="494.2" r="8.5" fill="#ffff4d"/>
<rect x="985.8" y="638" width="129.2" height="23" fill="url(#silver)"/>
<rect x="972.2" y="483.2" width="157.2" height="156.8" rx="2" fill="#f2f2f2"/>
<rect x="975.0" y="486.7" width="152.5" height="153.3" rx="2" fill="#ffff4d"/>
<rect x="1035.9" y="482.7" width="30" height="4.5" fill="#244431"/>
<circle cx="1050.9" cy="494.2" r="8.5" fill="#ffff4d"/>
</svg>
</body></html>
